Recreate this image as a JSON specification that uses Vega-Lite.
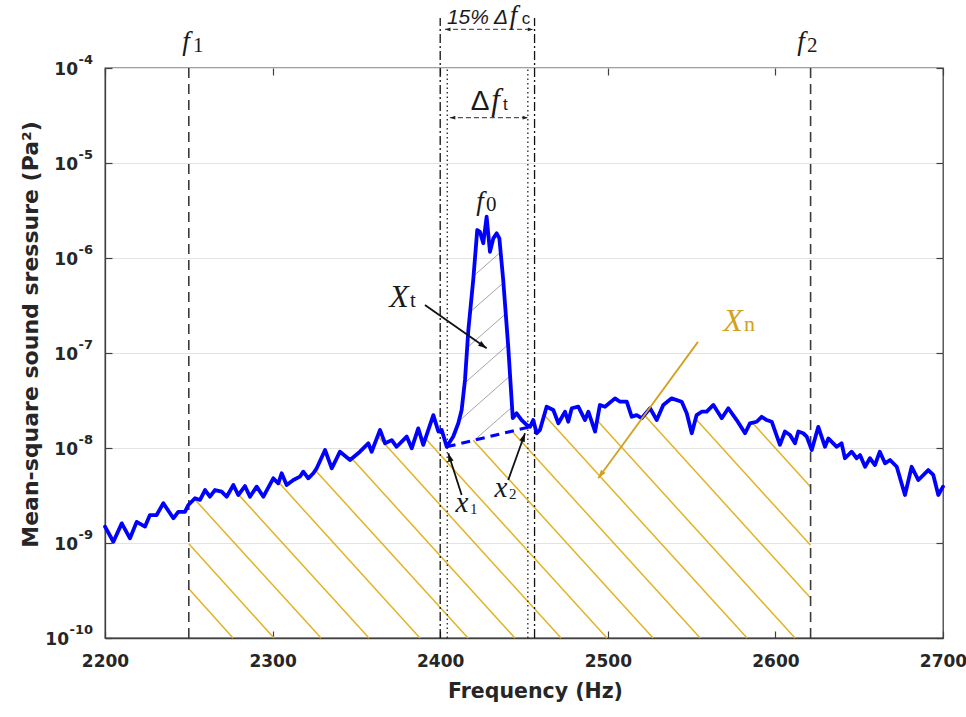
{
  "$schema": "https://vega.github.io/schema/vega-lite/v6.json",
  "width": 838,
  "height": 570,
  "autosize": {"type": "none"},
  "padding": {"left": 105, "top": 68, "right": 23, "bottom": 79},
  "background": "white",
  "config": {
    "view": {"stroke": "#404040", "strokeWidth": 1.3},
    "axis": {"domainColor": "#404040", "domainWidth": 1.3, "tickColor": "#404040", "tickWidth": 1.2, "labelColor": "#262626", "titleColor": "#262626"}
  },
  "resolve": {"axis": {"x": "independent", "y": "independent"}},
  "datasets": {
    "spectrum": [
      {"f": 2200.0, "p": 1.49e-9}, {"f": 2205.0, "p": 1.03e-9}, {"f": 2210.0, "p": 1.61e-9}, {"f": 2214.9, "p": 1.12e-9},
      {"f": 2218.9, "p": 1.67e-9}, {"f": 2223.9, "p": 1.49e-9}, {"f": 2226.8, "p": 1.97e-9}, {"f": 2230.8, "p": 1.97e-9},
      {"f": 2234.8, "p": 2.62e-9}, {"f": 2240.8, "p": 1.82e-9}, {"f": 2243.7, "p": 2.13e-9}, {"f": 2247.7, "p": 2.13e-9},
      {"f": 2249.7, "p": 2.51e-9}, {"f": 2253.7, "p": 2.96e-9}, {"f": 2256.7, "p": 2.84e-9}, {"f": 2259.7, "p": 3.61e-9},
      {"f": 2262.6, "p": 3.07e-9}, {"f": 2265.6, "p": 3.61e-9}, {"f": 2269.6, "p": 3.47e-9}, {"f": 2272.6, "p": 3.07e-9},
      {"f": 2276.6, "p": 4.08e-9}, {"f": 2279.5, "p": 3.20e-9}, {"f": 2283.5, "p": 3.98e-9}, {"f": 2286.5, "p": 3.07e-9},
      {"f": 2290.5, "p": 3.92e-9}, {"f": 2294.5, "p": 3.07e-9}, {"f": 2300.4, "p": 4.80e-9}, {"f": 2303.4, "p": 4.25e-9},
      {"f": 2305.4, "p": 5.42e-9}, {"f": 2308.4, "p": 4.08e-9}, {"f": 2312.4, "p": 4.60e-9}, {"f": 2316.3, "p": 4.99e-9},
      {"f": 2318.3, "p": 5.64e-9}, {"f": 2321.3, "p": 4.80e-9}, {"f": 2324.3, "p": 5.42e-9}, {"f": 2326.3, "p": 6.11e-9},
      {"f": 2331.3, "p": 9.53e-9}, {"f": 2335.3, "p": 6.11e-9}, {"f": 2340.2, "p": 9.14e-9}, {"f": 2346.2, "p": 7.48e-9},
      {"f": 2352.1, "p": 9.14e-9}, {"f": 2357.1, "p": 1.12e-8}, {"f": 2359.1, "p": 9.14e-9}, {"f": 2364.1, "p": 1.55e-8},
      {"f": 2367.1, "p": 1.12e-8}, {"f": 2371.1, "p": 1.21e-8}, {"f": 2374.0, "p": 1.03e-8}, {"f": 2380.0, "p": 1.32e-8},
      {"f": 2383.0, "p": 9.93e-9}, {"f": 2386.9, "p": 1.61e-8}, {"f": 2389.9, "p": 1.08e-8}, {"f": 2395.9, "p": 2.22e-8},
      {"f": 2398.9, "p": 1.49e-8}, {"f": 2400.9, "p": 1.55e-8}, {"f": 2403.9, "p": 1.03e-8}, {"f": 2407.8, "p": 1.32e-8},
      {"f": 2410.8, "p": 1.82e-8}, {"f": 2412.8, "p": 2.51e-8}, {"f": 2414.8, "p": 5.20e-8}, {"f": 2416.8, "p": 1.75e-7},
      {"f": 2419.7, "p": 5.86e-7}, {"f": 2422.1, "p": 1.97e-6}, {"f": 2423.7, "p": 1.89e-6}, {"f": 2425.7, "p": 1.43e-6},
      {"f": 2427.7, "p": 2.72e-6}, {"f": 2429.7, "p": 1.16e-6}, {"f": 2431.7, "p": 1.61e-6}, {"f": 2433.7, "p": 1.82e-6},
      {"f": 2435.3, "p": 1.61e-6}, {"f": 2437.6, "p": 5.86e-7}, {"f": 2440.6, "p": 1.16e-7}, {"f": 2443.3, "p": 2.06e-8},
      {"f": 2445.6, "p": 2.32e-8}, {"f": 2448.6, "p": 1.97e-8}, {"f": 2451.6, "p": 1.75e-8}, {"f": 2453.6, "p": 1.67e-8},
      {"f": 2455.5, "p": 1.97e-8}, {"f": 2457.6, "p": 1.43e-8}, {"f": 2459.5, "p": 1.55e-8}, {"f": 2463.5, "p": 2.72e-8},
      {"f": 2467.5, "p": 2.51e-8}, {"f": 2470.5, "p": 1.82e-8}, {"f": 2474.5, "p": 2.41e-8}, {"f": 2476.4, "p": 1.89e-8},
      {"f": 2478.5, "p": 2.62e-8}, {"f": 2482.4, "p": 2.72e-8}, {"f": 2486.4, "p": 1.97e-8}, {"f": 2488.4, "p": 2.41e-8},
      {"f": 2492.4, "p": 1.49e-8}, {"f": 2495.3, "p": 2.84e-8}, {"f": 2498.3, "p": 2.72e-8}, {"f": 2504.3, "p": 3.33e-8},
      {"f": 2507.3, "p": 3.07e-8}, {"f": 2511.3, "p": 3.07e-8}, {"f": 2514.3, "p": 2.13e-8}, {"f": 2517.2, "p": 2.22e-8},
      {"f": 2520.2, "p": 2.06e-8}, {"f": 2525.2, "p": 2.62e-8}, {"f": 2529.2, "p": 1.97e-8}, {"f": 2533.1, "p": 2.84e-8},
      {"f": 2538.1, "p": 3.33e-8}, {"f": 2544.1, "p": 3.07e-8}, {"f": 2547.1, "p": 2.32e-8}, {"f": 2550.1, "p": 1.43e-8},
      {"f": 2553.0, "p": 2.22e-8}, {"f": 2556.0, "p": 2.41e-8}, {"f": 2559.0, "p": 2.41e-8}, {"f": 2563.0, "p": 2.84e-8},
      {"f": 2568.0, "p": 2.06e-8}, {"f": 2571.9, "p": 2.62e-8}, {"f": 2576.9, "p": 1.97e-8}, {"f": 2581.9, "p": 1.43e-8},
      {"f": 2584.8, "p": 1.82e-8}, {"f": 2588.8, "p": 1.89e-8}, {"f": 2591.8, "p": 2.13e-8}, {"f": 2594.8, "p": 1.97e-8},
      {"f": 2597.8, "p": 1.89e-8}, {"f": 2602.7, "p": 1.08e-8}, {"f": 2605.7, "p": 1.49e-8}, {"f": 2608.7, "p": 1.37e-8},
      {"f": 2611.7, "p": 1.12e-8}, {"f": 2613.7, "p": 1.49e-8}, {"f": 2616.6, "p": 1.43e-8}, {"f": 2618.7, "p": 1.32e-8},
      {"f": 2621.7, "p": 9.53e-9}, {"f": 2625.6, "p": 1.67e-8}, {"f": 2629.6, "p": 1.03e-8}, {"f": 2631.6, "p": 1.26e-8},
      {"f": 2634.5, "p": 1.12e-8}, {"f": 2636.6, "p": 1.03e-8}, {"f": 2639.5, "p": 1.12e-8}, {"f": 2641.5, "p": 7.80e-9},
      {"f": 2645.5, "p": 9.14e-9}, {"f": 2648.5, "p": 7.80e-9}, {"f": 2650.5, "p": 8.43e-9}, {"f": 2653.5, "p": 6.35e-9},
      {"f": 2656.4, "p": 7.80e-9}, {"f": 2659.4, "p": 6.62e-9}, {"f": 2662.3, "p": 9.14e-9}, {"f": 2665.4, "p": 6.90e-9},
      {"f": 2668.4, "p": 7.48e-9}, {"f": 2672.4, "p": 6.35e-9}, {"f": 2677.3, "p": 3.20e-9}, {"f": 2681.3, "p": 6.35e-9},
      {"f": 2685.3, "p": 4.60e-9}, {"f": 2691.2, "p": 5.86e-9}, {"f": 2694.2, "p": 5.20e-9}, {"f": 2697.2, "p": 3.20e-9},
      {"f": 2700.0, "p": 3.92e-9}
    ],
    "floor": [
      {"f": 2403.9, "p": 1.03e-8}, {"f": 2453.6, "p": 1.67e-8}
    ],
    "hatch_n": [
      {"f": 2250.0, "p": 3.30e-10, "f_end": 2276.4, "p_end": 1e-10},
      {"f": 2250.0, "p": 9.84e-10, "f_end": 2300.8, "p_end": 1e-10},
      {"f": 2253.4, "p": 2.90e-9, "f_end": 2328.9, "p_end": 1e-10},
      {"f": 2279.7, "p": 3.23e-9, "f_end": 2357.5, "p_end": 1e-10},
      {"f": 2303.6, "p": 4.35e-9, "f_end": 2387.9, "p_end": 1e-10},
      {"f": 2325.5, "p": 5.83e-9, "f_end": 2416.6, "p_end": 1e-10},
      {"f": 2347.3, "p": 7.74e-9, "f_end": 2444.6, "p_end": 1e-10},
      {"f": 2362.7, "p": 1.33e-8, "f_end": 2472.1, "p_end": 1e-10},
      {"f": 2391.2, "p": 1.26e-8, "f_end": 2499.5, "p_end": 1e-10},
      {"f": 2419.7, "p": 1.21e-8, "f_end": 2527.0, "p_end": 1e-10},
      {"f": 2442.7, "p": 1.51e-8, "f_end": 2555.1, "p_end": 1e-10},
      {"f": 2462.1, "p": 2.22e-8, "f_end": 2583.1, "p_end": 1e-10},
      {"f": 2493.6, "p": 1.96e-8, "f_end": 2611.7, "p_end": 1e-10},
      {"f": 2521.8, "p": 2.22e-8, "f_end": 2621.0, "p_end": 2.63e-10},
      {"f": 2552.4, "p": 2.03e-8, "f_end": 2621.0, "p_end": 9.46e-10},
      {"f": 2586.2, "p": 1.85e-8, "f_end": 2621.0, "p_end": 3.88e-9}
    ],
    "hatch_t": [
      {"f": 2420.6, "p": 1.22e-8, "f_end": 2442.8, "p_end": 2.69e-8},
      {"f": 2411.2, "p": 1.92e-8, "f_end": 2441.7, "p_end": 5.74e-8},
      {"f": 2414.6, "p": 4.83e-8, "f_end": 2440.5, "p_end": 1.22e-7},
      {"f": 2416.1, "p": 1.14e-7, "f_end": 2439.1, "p_end": 2.59e-7},
      {"f": 2417.8, "p": 2.70e-7, "f_end": 2437.8, "p_end": 5.50e-7},
      {"f": 2419.9, "p": 6.47e-7, "f_end": 2436.0, "p_end": 1.15e-6}
    ],
    "guides": [
      {"kind": "bound", "f": 2250.0, "p": 1e-10, "p_end": 1e-4},
      {"kind": "bound", "f": 2621.0, "p": 1e-10, "p_end": 1e-4},
      {"kind": "band", "f": 2400.0, "p": 1e-10, "p_end": 3.36e-4},
      {"kind": "band", "f": 2456.3, "p": 1e-10, "p_end": 3.36e-4},
      {"kind": "tone", "f": 2404.2, "p": 1e-10, "p_end": 1e-4},
      {"kind": "tone", "f": 2452.3, "p": 1e-10, "p_end": 1e-4}
    ],
    "dims": [
      {"name": "band", "f": 2402.9, "f_end": 2455.5, "p": 2.55e-4},
      {"name": "tone", "f": 2405.8, "f_end": 2452.4, "p": 3.0e-5}
    ],
    "pointers": [
      {"name": "Xt", "f": 2390.9, "p": 3.20e-7, "f_end": 2427.7, "p_end": 1.12e-7},
      {"name": "Xn", "f": 2553.8, "p": 1.31e-7, "f_end": 2494.3, "p_end": 4.80e-9},
      {"name": "x1", "f": 2412.8, "p": 3.20e-9, "f_end": 2404.8, "p_end": 8.80e-9},
      {"name": "x2", "f": 2440.6, "p": 4.60e-9, "f_end": 2450.6, "p_end": 1.43e-8}
    ],
    "decades": [
      {"p": 1e-10, "exp": "-10"}, {"p": 1e-9, "exp": "-9"}, {"p": 1e-8, "exp": "-8"}, {"p": 1e-7, "exp": "-7"},
      {"p": 1e-6, "exp": "-6"}, {"p": 1e-5, "exp": "-5"}, {"p": 1e-4, "exp": "-4"}
    ],
    "notes": [
      {"role": "sym", "text": "f", "f": 2248.3, "p": 1.55e-4},
      {"role": "idx", "text": "1", "f": 2252.5, "p": 1.47e-4},
      {"role": "sym", "text": "f", "f": 2615.3, "p": 1.55e-4},
      {"role": "idx", "text": "2", "f": 2618.9, "p": 1.47e-4},
      {"role": "sym", "text": "f", "f": 2423.7, "p": 3.20e-6},
      {"role": "idx", "text": "0", "f": 2427.3, "p": 3.13e-6},
      {"role": "cap", "text": "X", "f": 2375.4, "p": 3.05e-7},
      {"role": "idx", "text": "t", "f": 2382.0, "p": 3.05e-7},
      {"role": "capN", "text": "X", "f": 2574.7, "p": 1.71e-7},
      {"role": "idxN", "text": "n", "f": 2581.3, "p": 1.71e-7},
      {"role": "low", "text": "x", "f": 2413.0, "p": 2.12e-9},
      {"role": "idxS", "text": "1", "f": 2417.8, "p": 2.02e-9},
      {"role": "low", "text": "x", "f": 2436.3, "p": 3.05e-9},
      {"role": "idxS", "text": "2", "f": 2441.1, "p": 2.90e-9},
      {"role": "dimtxt", "text": "15% Δ", "f": 2440.5, "p": 2.91e-4},
      {"role": "sym", "text": "f", "f": 2443.8, "p": 2.91e-4},
      {"role": "dimidx", "text": "c", "f": 2448.6, "p": 2.91e-4},
      {"role": "delta", "text": "Δ", "f": 2429.4, "p": 3.61e-5},
      {"role": "symD", "text": "f", "f": 2433.0, "p": 3.61e-5},
      {"role": "dimidx", "text": "t", "f": 2437.4, "p": 3.61e-5}
    ]
  },
  "layer": [
    {
      "encoding": {
        "x": {
          "field": "f",
          "type": "quantitative",
          "scale": {"domain": [2200, 2700], "nice": false, "zero": false},
          "axis": {
            "values": [2200, 2300, 2400, 2500, 2600, 2700],
            "format": "d",
            "grid": false,
            "tickSize": -7,
            "labelPadding": 22,
            "labelFont": "DejaVu Sans",
            "labelFontWeight": "bold",
            "labelFontSize": 17,
            "labelFlush": false,
            "title": "Frequency (Hz)",
            "titleFont": "DejaVu Sans",
            "titleFontWeight": "bold",
            "titleFontSize": 20.5,
            "titleBaseline": "alphabetic",
            "titleX": 430,
            "titleY": 59
          }
        },
        "y": {
          "field": "p",
          "type": "quantitative",
          "scale": {"type": "log", "domain": [1e-10, 1e-4], "nice": false},
          "axis": {
            "values": [1e-10, 1e-9, 1e-8, 1e-7, 1e-6, 1e-5, 1e-4],
            "labels": false,
            "grid": true,
            "gridColor": "#e3e3e3",
            "gridWidth": 1.2,
            "tickSize": -7,
            "title": "Mean-square sound sressure (Pa²)",
            "titleFont": "DejaVu Sans",
            "titleFontWeight": "bold",
            "titleFontSize": 22,
            "titleAngle": -90,
            "titleAlign": "center",
            "titleBaseline": "alphabetic",
            "titleX": -68,
            "titleY": 266
          }
        }
      },
      "layer": [
        {
          "data": {"name": "hatch_n"},
          "mark": {"type": "rule", "color": "#E2B325", "strokeWidth": 1.5},
          "encoding": {"x2": {"field": "f_end"}, "y2": {"field": "p_end"}}
        },
        {
          "data": {"name": "hatch_t"},
          "mark": {"type": "rule", "color": "#8c8c8c", "strokeWidth": 0.8},
          "encoding": {"x2": {"field": "f_end"}, "y2": {"field": "p_end"}}
        },
        {
          "data": {"name": "guides"},
          "transform": [{"filter": "datum.kind == 'bound'"}],
          "mark": {"type": "rule", "color": "#3a3a3a", "strokeWidth": 1.6, "strokeDash": [10, 6]},
          "encoding": {"y2": {"field": "p_end"}}
        },
        {
          "data": {"name": "guides"},
          "transform": [{"filter": "datum.kind == 'band'"}],
          "mark": {"type": "rule", "color": "#111111", "strokeWidth": 1.3, "strokeDash": [9, 3, 2, 3]},
          "encoding": {"y2": {"field": "p_end"}}
        },
        {
          "data": {"name": "guides"},
          "transform": [{"filter": "datum.kind == 'tone'"}],
          "mark": {"type": "rule", "color": "#111111", "strokeWidth": 1.2, "strokeDash": [1.5, 3]},
          "encoding": {"y2": {"field": "p_end"}}
        },
        {
          "data": {"name": "spectrum"},
          "mark": {"type": "line", "color": "#0000FF", "strokeWidth": 3.8, "strokeJoin": "round", "strokeCap": "round"}
        },
        {
          "data": {"name": "floor"},
          "mark": {"type": "line", "color": "#0000FF", "strokeWidth": 3, "strokeDash": [9, 6]}
        },
        {
          "data": {"name": "dims"},
          "mark": {"type": "rule", "color": "#555555", "strokeWidth": 1.1, "strokeDash": [5, 3]},
          "encoding": {"x2": {"field": "f_end"}}
        },
        {
          "data": {"name": "dims"},
          "mark": {"type": "point", "shape": "M0,0L1.8,-0.6L1.8,0.6Z", "filled": true, "color": "#222222", "opacity": 1, "size": 36}
        },
        {
          "data": {"name": "dims"},
          "mark": {"type": "point", "shape": "M0,0L-1.8,-0.6L-1.8,0.6Z", "filled": true, "color": "#222222", "opacity": 1, "size": 36},
          "encoding": {"x": {"field": "f_end", "type": "quantitative"}}
        },
        {
          "data": {"name": "pointers"},
          "transform": [{"filter": "datum.name != 'Xn'"}],
          "mark": {"type": "rule", "color": "#111111", "strokeWidth": 1.8},
          "encoding": {"x2": {"field": "f_end"}, "y2": {"field": "p_end"}}
        },
        {
          "data": {"name": "pointers"},
          "transform": [{"filter": "datum.name == 'Xn'"}],
          "mark": {"type": "rule", "color": "#D3A020", "strokeWidth": 1.8},
          "encoding": {"x2": {"field": "f_end"}, "y2": {"field": "p_end"}}
        },
        {
          "data": {"name": "pointers"},
          "transform": [{"filter": "datum.name == 'Xt'"}],
          "mark": {"type": "point", "shape": "M0,0L0.6,1.8L-0.6,1.8Z", "filled": true, "color": "#111111", "opacity": 1, "size": 90, "angle": 125},
          "encoding": {"x": {"field": "f_end", "type": "quantitative"}, "y": {"field": "p_end", "type": "quantitative"}}
        },
        {
          "data": {"name": "pointers"},
          "transform": [{"filter": "datum.name == 'x1'"}],
          "mark": {"type": "point", "shape": "M0,0L0.6,1.8L-0.6,1.8Z", "filled": true, "color": "#111111", "opacity": 1, "size": 90, "angle": 342},
          "encoding": {"x": {"field": "f_end", "type": "quantitative"}, "y": {"field": "p_end", "type": "quantitative"}}
        },
        {
          "data": {"name": "pointers"},
          "transform": [{"filter": "datum.name == 'x2'"}],
          "mark": {"type": "point", "shape": "M0,0L0.6,1.8L-0.6,1.8Z", "filled": true, "color": "#111111", "opacity": 1, "size": 90, "angle": 20},
          "encoding": {"x": {"field": "f_end", "type": "quantitative"}, "y": {"field": "p_end", "type": "quantitative"}}
        },
        {
          "data": {"name": "pointers"},
          "transform": [{"filter": "datum.name == 'Xn'"}],
          "mark": {"type": "point", "shape": "M0,0L0.6,1.8L-0.6,1.8Z", "filled": true, "color": "#D3A020", "opacity": 1, "size": 90, "angle": 216},
          "encoding": {"x": {"field": "f_end", "type": "quantitative"}, "y": {"field": "p_end", "type": "quantitative"}}
        },
        {
          "data": {"name": "notes"},
          "transform": [{"filter": "datum.role == 'sym'"}],
          "mark": {"type": "text", "font": "Liberation Serif", "fontStyle": "italic", "fontSize": 27, "align": "center", "baseline": "alphabetic", "color": "#1a1a1a"},
          "encoding": {"text": {"field": "text"}}
        },
        {
          "data": {"name": "notes"},
          "transform": [{"filter": "datum.role == 'symD'"}],
          "mark": {"type": "text", "font": "Liberation Serif", "fontStyle": "italic", "fontSize": 31, "align": "center", "baseline": "alphabetic", "color": "#1a1a1a"},
          "encoding": {"text": {"field": "text"}}
        },
        {
          "data": {"name": "notes"},
          "transform": [{"filter": "datum.role == 'cap'"}],
          "mark": {"type": "text", "font": "Liberation Serif", "fontStyle": "italic", "fontSize": 32, "align": "center", "baseline": "alphabetic", "color": "#1a1a1a"},
          "encoding": {"text": {"field": "text"}}
        },
        {
          "data": {"name": "notes"},
          "transform": [{"filter": "datum.role == 'capN'"}],
          "mark": {"type": "text", "font": "Liberation Serif", "fontStyle": "italic", "fontSize": 32, "align": "center", "baseline": "alphabetic", "color": "#D3A020"},
          "encoding": {"text": {"field": "text"}}
        },
        {
          "data": {"name": "notes"},
          "transform": [{"filter": "datum.role == 'low'"}],
          "mark": {"type": "text", "font": "Liberation Serif", "fontStyle": "italic", "fontSize": 29, "align": "center", "baseline": "alphabetic", "color": "#1a1a1a"},
          "encoding": {"text": {"field": "text"}}
        },
        {
          "data": {"name": "notes"},
          "transform": [{"filter": "datum.role == 'idx'"}],
          "mark": {"type": "text", "font": "Liberation Serif", "fontSize": 21, "align": "left", "baseline": "alphabetic", "color": "#1a1a1a"},
          "encoding": {"text": {"field": "text"}}
        },
        {
          "data": {"name": "notes"},
          "transform": [{"filter": "datum.role == 'idxN'"}],
          "mark": {"type": "text", "font": "Liberation Serif", "fontSize": 22, "align": "left", "baseline": "alphabetic", "color": "#D3A020"},
          "encoding": {"text": {"field": "text"}}
        },
        {
          "data": {"name": "notes"},
          "transform": [{"filter": "datum.role == 'idxS'"}],
          "mark": {"type": "text", "font": "Liberation Serif", "fontSize": 15, "align": "left", "baseline": "alphabetic", "color": "#1a1a1a"},
          "encoding": {"text": {"field": "text"}}
        },
        {
          "data": {"name": "notes"},
          "transform": [{"filter": "datum.role == 'dimtxt'"}],
          "mark": {"type": "text", "font": "Liberation Sans", "fontStyle": "italic", "fontSize": 21, "align": "right", "baseline": "alphabetic", "color": "#1a1a1a"},
          "encoding": {"text": {"field": "text"}}
        },
        {
          "data": {"name": "notes"},
          "transform": [{"filter": "datum.role == 'delta'"}],
          "mark": {"type": "text", "font": "Liberation Sans", "fontSize": 28, "align": "right", "baseline": "alphabetic", "color": "#1a1a1a"},
          "encoding": {"text": {"field": "text"}}
        },
        {
          "data": {"name": "notes"},
          "transform": [{"filter": "datum.role == 'dimidx'"}],
          "mark": {"type": "text", "font": "Liberation Sans", "fontSize": 17, "align": "left", "baseline": "alphabetic", "color": "#1a1a1a"},
          "encoding": {"text": {"field": "text"}}
        }
      ]
    },
    {
      "data": {"name": "decades"},
      "mark": {"type": "text", "font": "DejaVu Sans", "fontWeight": "bold", "fontSize": 13, "align": "right", "baseline": "alphabetic", "dx": -12, "dy": -4, "color": "#262626"},
      "encoding": {
        "x": {"datum": 2200, "type": "quantitative", "axis": {"orient": "top", "values": [2200, 2300, 2400, 2500, 2600, 2700], "labels": false, "title": null, "domain": false, "grid": false, "tickSize": -7}},
        "y": {"field": "p", "type": "quantitative", "scale": {"type": "log"}, "axis": {"orient": "right", "values": [1e-10, 1e-9, 1e-8, 1e-7, 1e-6, 1e-5, 1e-4], "labels": false, "title": null, "domain": false, "grid": false, "tickSize": -7}},
        "text": {"field": "exp"}
      }
    },
    {
      "data": {"name": "decades"},
      "transform": [{"filter": "datum.exp != '-10'"}],
      "mark": {"type": "text", "font": "DejaVu Sans", "fontWeight": "bold", "fontSize": 17, "align": "right", "baseline": "middle", "dx": -27, "dy": 2, "color": "#262626"},
      "encoding": {
        "x": {"datum": 2200, "type": "quantitative", "axis": null},
        "y": {"field": "p", "type": "quantitative", "scale": {"type": "log"}, "axis": null},
        "text": {"value": "10"}
      }
    },
    {
      "data": {"name": "decades"},
      "transform": [{"filter": "datum.exp == '-10'"}],
      "mark": {"type": "text", "font": "DejaVu Sans", "fontWeight": "bold", "fontSize": 17, "align": "right", "baseline": "middle", "dx": -36, "dy": 2, "color": "#262626"},
      "encoding": {
        "x": {"datum": 2200, "type": "quantitative", "axis": null},
        "y": {"field": "p", "type": "quantitative", "scale": {"type": "log"}, "axis": null},
        "text": {"value": "10"}
      }
    }
  ]
}
